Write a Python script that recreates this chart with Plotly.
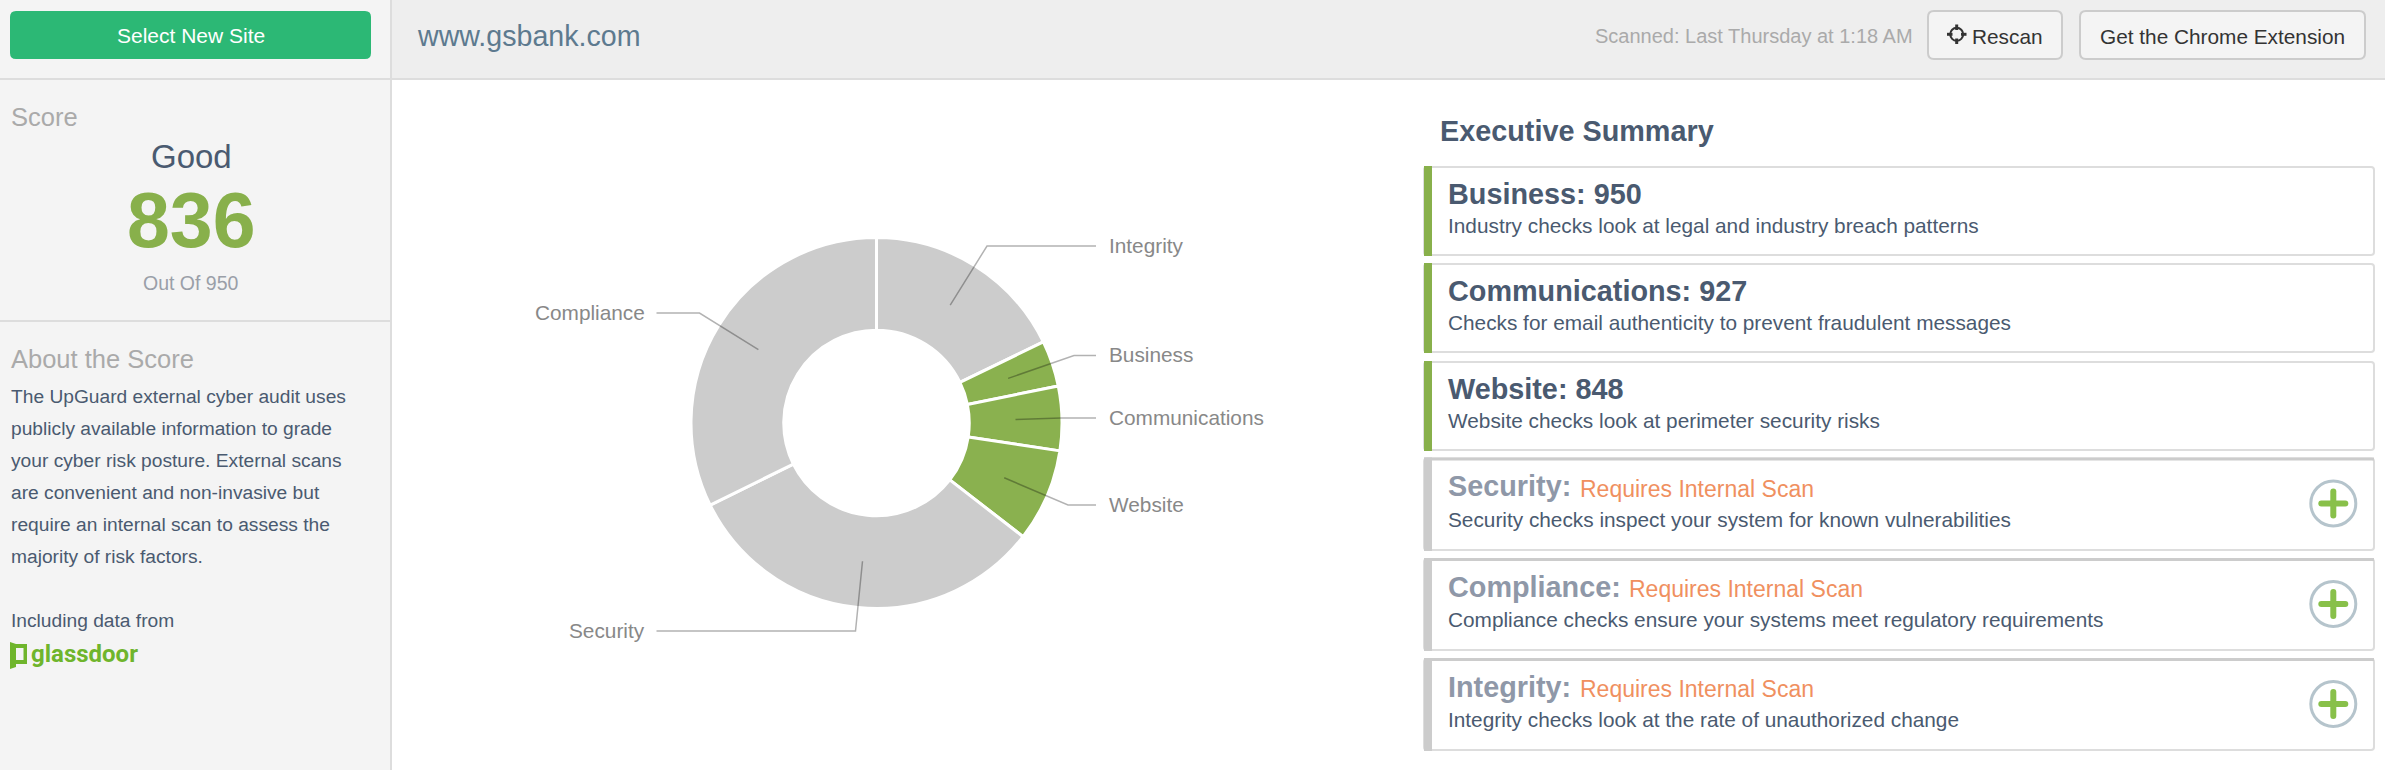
import math
import plotly.graph_objects as go

W, H = 2385, 770

# slices, clockwise from 12 o'clock
slice_names = ["Integrity", "Business", "Communications", "Website", "Security", "Compliance"]
slice_values = [17.8, 4.0, 5.6, 8.1, 32.2, 32.3]
slice_colors = ["#cccccc", "#8ab14f", "#8ab14f", "#8ab14f", "#cccccc", "#cccccc"]

# summary cards
scored_names = ["Business", "Communications", "Website"]
scored_values = [950, 927, 848]
scored_notes = [
    "Industry checks look at legal and industry breach patterns",
    "Checks for email authenticity to prevent fraudulent messages",
    "Website checks look at perimeter security risks",
]
locked_names = ["Security", "Compliance", "Integrity"]
locked_notes = [
    "Security checks inspect your system for known vulnerabilities",
    "Compliance checks ensure your systems meet regulatory requirements",
    "Integrity checks look at the rate of unauthorized change",
]
about_lines = [
    "The UpGuard external cyber audit uses",
    "publicly available information to grade",
    "your cyber risk posture. External scans",
    "are convenient and non-invasive but",
    "require an internal scan to assess the",
    "majority of risk factors.",
]

FONT = "Liberation Sans"
DARK = "#4a5a70"

# donut geometry in pixels
cx, cy, r_out, r_in = 876.5, 423, 184, 94
pie_pad = 1.5  # slice outline eats a little of the radius

fig = go.Figure()
fig.add_trace(go.Pie(
    labels=slice_names,
    values=slice_values,
    sort=False,
    direction="clockwise",
    rotation=0,
    hole=0.5,
    marker=dict(colors=slice_colors, line=dict(color="white", width=3)),
    textinfo="none",
    hoverinfo="label",
    showlegend=False,
    domain=dict(x=[(cx - r_out - pie_pad) / W, (cx + r_out + pie_pad) / W],
                y=[1 - (cy + r_out + pie_pad) / H, 1 - (cy - r_out - pie_pad) / H]),
))

shapes = []
annotations = []


def rect(x0, y0, x1, y1, fill, line=None, lw=0):
    shapes.append(dict(type="rect", xref="x", yref="y", x0=x0, y0=y0, x1=x1, y1=y1,
                       fillcolor=fill, line=dict(color=line or fill, width=lw), layer="below"))


def rounded(x0, y0, x1, y1, r, fill, line=None, lw=0, layer="below"):
    path = (f"M{x0 + r},{y0} L{x1 - r},{y0} Q{x1},{y0} {x1},{y0 + r} L{x1},{y1 - r} Q{x1},{y1} {x1 - r},{y1} "
            f"L{x0 + r},{y1} Q{x0},{y1} {x0},{y1 - r} L{x0},{y0 + r} Q{x0},{y0} {x0 + r},{y0} Z")
    shapes.append(dict(type="path", xref="x", yref="y", path=path, fillcolor=fill,
                       line=dict(color=line or fill, width=lw), layer=layer))


def text(x, y, s, size, color, anchor="left", bold=False, family=FONT):
    annotations.append(dict(xref="x", yref="y", x=x, y=y, text=f"<b>{s}</b>" if bold else s, showarrow=False,
                            xanchor=anchor, yanchor="middle", borderpad=0,
                            font=dict(size=size, color=color, family=family)))


# panels
rect(0, 0, 391, H, "#f4f4f4")
rect(391, 0, W, 79, "#eeeeee")
rect(0, 0, 391, 79, "#f4f4f4")
rect(0, 78, W, 80, "#dddddd")
rect(390, 0, 392, H, "#dddddd")
rect(0, 320, 391, 322, "#dddddd")

# sidebar
rounded(10, 11, 371, 59, 6, "#2cb875")
text(191, 35.5, "Select New Site", 21, "white", "center")
text(10, 117, "Score", 25.5, "#aaaaaa")
text(191, 156, "Good", 33, DARK, "center")
text(191, 220, "836", 77, "#88b04b", "center", bold=True)
text(191, 283, "Out Of 950", 19.5, "#9a9fa8", "center")
text(10, 358.5, "About the Score", 25.5, "#aaaaaa")
for i, line in enumerate(about_lines):
    text(10, 396.5 + 32 * i, line, 19.2, DARK)
text(10, 620.5, "Including data from", 19.2, DARK)

# glassdoor logo
shapes.append(dict(type="path", xref="x", yref="y", layer="above", line=dict(width=0), fillcolor="#6fb52c",
                   path="M10,642 L16,644 L27,644 L27,664 L16,664 L16,667 L10,669 Z "
                        "M16,648 L16,660 L23.5,660 L23.5,648 Z"))
text(30, 654, "glassdoor", 24, "#6fb52c", bold=True, family="Roboto")

# header
text(416, 35.5, "www.gsbank.com", 28.6, "#5d7a8f")
text(1914, 35.5, "Scanned: Last Thursday at 1:18 AM", 20, "#aaaaaa", "right")
rounded(1928, 11, 2062, 59, 6, "#f4f4f4", "#cccccc", 2)
rounded(2080, 11, 2365, 59, 6, "#f4f4f4", "#cccccc", 2)
# rescan crosshair
shapes.append(dict(type="circle", xref="x", yref="y", x0=1950.2, x1=1963.2, y0=27.8, y1=40.8,
                   line=dict(color="#333333", width=2)))
for d in ["M1956.7,24.5 L1956.7,30", "M1956.7,38.5 L1956.7,44", "M1947,34.3 L1952.5,34.3", "M1961,34.3 L1966.5,34.3"]:
    shapes.append(dict(type="path", xref="x", yref="y", path=d, line=dict(color="#333333", width=3)))
text(1971, 36, "Rescan", 20.8, "#333333")
text(2222.5, 36, "Get the Chrome Extension", 20.8, "#333333", "center")

# leader lines: inner ends follow the slice middles, then elbow out to the label
label_elbows = [(987, 246), (1074, 355.5), (1061, 418), (1068, 505), (855.5, 631), (699.5, 313)]
r_mid = (r_out + r_in) / 2
start = 0
total = sum(slice_values)
for name, value, (ex, ey) in zip(slice_names, slice_values, label_elbows):
    mid = math.radians((start + value / 2) / total * 360)
    start += value
    px = cx + r_mid * math.sin(mid)
    py = cy - r_mid * math.cos(mid)
    left_side = ex < cx
    tx = 656.5 if left_side else 1096
    shapes.append(dict(type="path", xref="x", yref="y", layer="above",
                       path=f"M{px:.1f},{py:.1f} L{ex},{ey} L{tx},{ey}",
                       line=dict(color="rgba(0,0,0,0.3)", width=1.5)))
    if left_side:
        text(646, ey - 1, name, 20.8, "#888888", "right")
    else:
        text(1107.5, ey - 1, name, 20.8, "#888888")

# executive summary
text(1439, 131, "Executive Summary", 28.8, DARK, bold=True)

card_tops = [167, 264, 362, 458.5, 559, 659]
card_bottoms = [255, 352, 450, 550, 650, 750]


def card(top, bottom, bar):
    rounded(1424, top, 2374, bottom, 3, "white", "#dddddd", 2)
    rect(1424, top - 1, 1432, bottom + 1, bar)


for i, (name, value, note) in enumerate(zip(scored_names, scored_values, scored_notes)):
    top, bottom = card_tops[i], card_bottoms[i]
    card(top, bottom, "#88b04b")
    text(1447, top + 27, f"{name}: {value}", 28.8, DARK, bold=True)
    text(1447, top + 58, note, 20.8, DARK)

title_ends = [1578.5, 1627.5, 1578.5]
for i, (name, note, tx) in enumerate(zip(locked_names, locked_notes, title_ends)):
    top, bottom = card_tops[i + 3], card_bottoms[i + 3]
    card(top, bottom, "#cccccc")
    rect(1424, top - 1, 2374, top + 2, "#cccccc")
    text(1447, top + 27.5, f"{name}:", 28.8, "#8f98a8", bold=True)
    text(tx, top + 30, "Requires Internal Scan", 23, "#f0905f")
    text(1447, top + 60.5, note, 20.8, DARK)
    py = top + 45
    shapes.append(dict(type="circle", xref="x", yref="y", x0=2333.3 - 22.5, x1=2333.3 + 22.5, y0=py - 22.5, y1=py + 22.5,
                       fillcolor="white", line=dict(color="#b5c4cc", width=3)))
    rounded(2330.3, py - 15, 2336.3, py + 15, 3, "#88c04a", layer="above")
    rounded(2318.3, py - 3, 2348.3, py + 3, 3, "#88c04a", layer="above")

fig.update_layout(
    width=W,
    height=H,
    margin=dict(l=0, r=0, t=0, b=0),
    paper_bgcolor="white",
    plot_bgcolor="rgba(0,0,0,0)",
    xaxis=dict(range=[0, W], visible=False, fixedrange=True),
    yaxis=dict(range=[H, 0], visible=False, fixedrange=True),
    shapes=shapes,
    annotations=annotations,
)

fig.write_html("out.html", config=dict(displayModeBar=False),
               post_script="document.body.style.margin='0';document.body.style.overflow='hidden';")
